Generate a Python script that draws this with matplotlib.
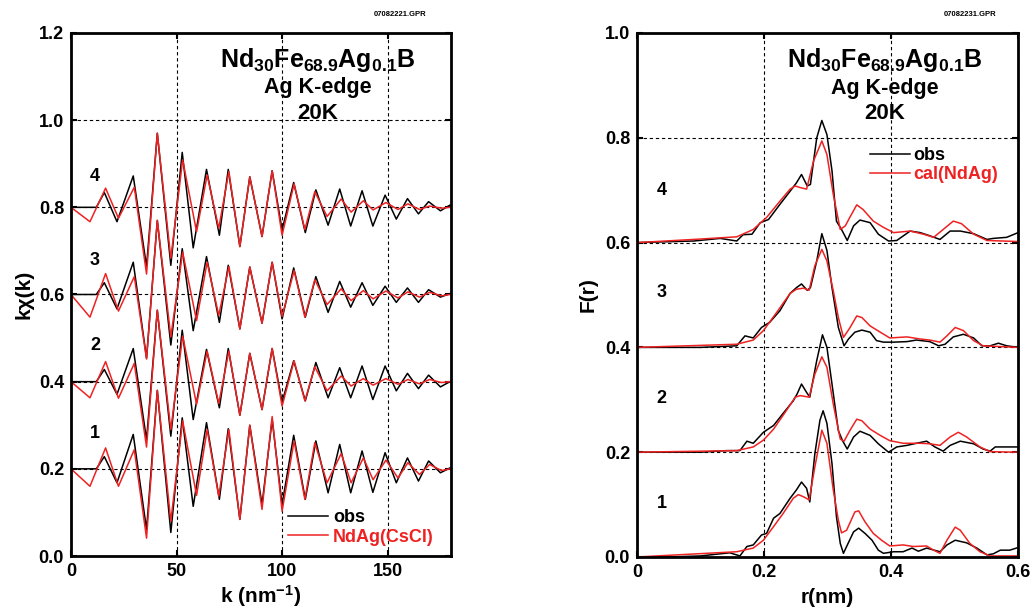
import numpy as np
import matplotlib
matplotlib.use('Agg')
import matplotlib.pyplot as plt

plt.rcParams['font.family'] = ['Liberation Sans', 'DejaVu Sans']
plt.rcParams['font.weight'] = 'bold'
plt.rcParams['axes.labelweight'] = 'bold'
plt.rcParams['mathtext.fontset'] = 'custom'
plt.rcParams['mathtext.rm'] = 'Liberation Sans:bold'
plt.rcParams['mathtext.bf'] = 'Liberation Sans:bold'
plt.rcParams['mathtext.it'] = 'Liberation Sans:bold'
plt.rcParams['mathtext.default'] = 'bf'

# ---- left panel: k*chi(k), extrema (offsets 0.2 .. 0.8)
offsets_k = [0.2, 0.4, 0.6, 0.8]
curve_ids = ['1', '2', '3', '4']

k_obs = [0, 12, 15.8, 21.8, 29.5, 35.8, 40.9, 47.3, 52.7, 57.9, 64.2, 70.3, 74.5, 80,
         84.7, 90.5, 95.3, 100, 105.5, 111, 116, 121.8, 127.3, 132.5, 137.9, 143,
         148.8, 154.1, 159.4, 164.6, 169.4, 175, 179.5]
chi_obs1 = [0, 0, 0.028, -0.032, 0.079, -0.139, 0.18, -0.146, 0.117, -0.086, 0.106, -0.07,
            0.092, -0.116, 0.1, -0.082, 0.113, -0.082, 0.077, -0.07, 0.064, -0.055, 0.056,
            -0.055, 0.041, -0.054, 0.037, -0.032, 0.025, -0.028, 0.018, -0.009, 0.002]
chi_obs2 = [0, 0, 0.028, -0.029, 0.076, -0.133, 0.164, -0.125, 0.118, -0.087, 0.074, -0.06,
            0.076, -0.077, 0.065, -0.064, 0.076, -0.047, 0.048, -0.044, 0.044, -0.037, 0.032,
            -0.037, 0.036, -0.041, 0.036, -0.021, 0.019, -0.016, 0.015, -0.012, 0.0]
chi_obs3 = [0, 0, 0.027, -0.033, 0.074, -0.146, 0.17, -0.116, 0.105, -0.083, 0.087, -0.064,
            0.067, -0.079, 0.063, -0.066, 0.074, -0.056, 0.061, -0.052, 0.041, -0.041, 0.03,
            -0.029, 0.027, -0.025, 0.019, -0.018, 0.015, -0.018, 0.011, -0.006, 0.002]
chi_obs4 = [0, 0, 0.034, -0.033, 0.072, -0.136, 0.17, -0.133, 0.126, -0.093, 0.087, -0.064,
            0.087, -0.09, 0.07, -0.067, 0.084, -0.052, 0.057, -0.058, 0.04, -0.041, 0.042,
            -0.043, 0.038, -0.043, 0.028, -0.027, 0.02, -0.015, 0.013, -0.008, 0.005]

k_cal = [0, 9, 16.4, 22.5, 30, 35.8, 40.9, 47.3, 52.9, 59.5, 64.5, 70, 74.8, 80, 84.7,
         90.5, 95.3, 100, 105.7, 110.8, 115.5, 121.3, 128, 132.7, 138.5, 143.1, 149.2,
         154.9, 159.6, 165.1, 169.9, 175.5, 179.5]
chi_cal1 = [0, -0.04, 0.048, -0.04, 0.044, -0.159, 0.18, -0.12, 0.11, -0.061, 0.09, -0.063,
            0.09, -0.116, 0.1, -0.093, 0.12, -0.097, 0.064, -0.07, 0.06, -0.032, 0.035,
            -0.032, 0.025, -0.025, 0.02, -0.021, 0.014, -0.013, 0.01, -0.004, 0.0]
chi_cal2 = [0, -0.037, 0.046, -0.038, 0.042, -0.15, 0.164, -0.11, 0.105, -0.052, 0.07, -0.05,
            0.07, -0.077, 0.065, -0.064, 0.076, -0.056, 0.048, -0.044, 0.034, -0.021, 0.013,
            -0.01, 0.007, -0.008, 0.007, -0.006, 0.005, -0.005, 0.005, -0.002, 0.0]
chi_cal3 = [0, -0.052, 0.048, -0.038, 0.041, -0.148, 0.17, -0.097, 0.097, -0.06, 0.074, -0.048,
            0.064, -0.079, 0.063, -0.066, 0.074, -0.05, 0.055, -0.052, 0.034, -0.023, 0.013,
            -0.014, 0.009, -0.01, 0.008, -0.008, 0.006, -0.006, 0.005, -0.003, 0.0]
chi_cal4 = [0, -0.033, 0.044, -0.025, 0.046, -0.153, 0.17, -0.117, 0.109, -0.056, 0.074, -0.048,
            0.082, -0.09, 0.07, -0.067, 0.084, -0.064, 0.054, -0.051, 0.036, -0.021, 0.019,
            -0.011, 0.015, -0.006, 0.011, -0.005, 0.008, -0.005, 0.003, -0.002, 0.0]

# ---- right panel: F(r), offsets 0 .. 0.6
offsets_r = [0.0, 0.2, 0.4, 0.6]

r_obs1 = [0, 0.05, 0.1, 0.146, 0.162, 0.173, 0.183, 0.196, 0.204, 0.215, 0.225, 0.241, 0.251,
          0.259, 0.267, 0.272, 0.28, 0.288, 0.293, 0.299, 0.307, 0.314, 0.32, 0.325, 0.33,
          0.341, 0.349, 0.359, 0.37, 0.38, 0.388, 0.404, 0.419, 0.433, 0.443, 0.456, 0.477,
          0.488, 0.501, 0.519, 0.535, 0.551, 0.561, 0.572, 0.587, 0.6]
f_obs1 = [0, 0.0, 0.002, 0.008, 0.002, 0.02, 0.023, 0.042, 0.045, 0.074, 0.083, 0.112, 0.128,
          0.143, 0.131, 0.105, 0.197, 0.261, 0.279, 0.255, 0.178, 0.077, 0.026, 0.007, 0.02,
          0.048, 0.055, 0.045, 0.032, 0.013, 0.007, 0.01, 0.01, 0.017, 0.011, 0.017, 0.01,
          0.023, 0.032, 0.027, 0.017, 0.004, 0.006, 0.013, 0.013, 0.018]
r_cal1 = [0, 0.157, 0.183, 0.199, 0.215, 0.23, 0.246, 0.254, 0.262, 0.271, 0.28, 0.291, 0.299,
          0.309, 0.317, 0.322, 0.33, 0.343, 0.349, 0.359, 0.372, 0.385, 0.398, 0.419, 0.435,
          0.456, 0.467, 0.477, 0.488, 0.501, 0.509, 0.524, 0.54, 0.556, 0.6]
f_cal1 = [0, 0.01, 0.017, 0.032, 0.058, 0.083, 0.112, 0.119, 0.115, 0.109, 0.172, 0.242, 0.217,
          0.128, 0.07, 0.046, 0.051, 0.086, 0.088, 0.067, 0.045, 0.032, 0.021, 0.023, 0.02,
          0.021, 0.013, 0.007, 0.032, 0.057, 0.051, 0.026, 0.01, 0.002, 0.002]

r_obs2 = [0, 0.1, 0.141, 0.162, 0.173, 0.183, 0.199, 0.215, 0.23, 0.246, 0.252, 0.259, 0.267,
          0.272, 0.283, 0.292, 0.299, 0.307, 0.317, 0.324, 0.331, 0.341, 0.351, 0.367, 0.38,
          0.396, 0.409, 0.425, 0.44, 0.456, 0.469, 0.482, 0.493, 0.509, 0.53, 0.545, 0.556,
          0.564, 0.582, 0.6]
f_obs2 = [0, 0.0, 0.003, 0.003, 0.021, 0.017, 0.038, 0.051, 0.074, 0.098, 0.111, 0.13, 0.114,
          0.105, 0.175, 0.224, 0.2, 0.13, 0.041, 0.021, 0.006, 0.029, 0.04, 0.032, 0.016,
          0.0, 0.01, 0.013, 0.017, 0.021, 0.01, 0.002, 0.013, 0.021, 0.016, 0.006, 0.002,
          0.01, 0.01, 0.01]
r_cal2 = [0, 0.157, 0.183, 0.199, 0.215, 0.236, 0.249, 0.257, 0.271, 0.28, 0.291, 0.299, 0.309,
          0.32, 0.326, 0.335, 0.346, 0.354, 0.367, 0.383, 0.398, 0.419, 0.446, 0.461, 0.477,
          0.493, 0.506, 0.519, 0.54, 0.556, 0.6]
f_cal2 = [0, 0.003, 0.01, 0.023, 0.044, 0.081, 0.105, 0.108, 0.105, 0.149, 0.182, 0.162, 0.092,
          0.025, 0.021, 0.041, 0.063, 0.06, 0.044, 0.032, 0.022, 0.017, 0.017, 0.016, 0.013,
          0.029, 0.038, 0.029, 0.01, 0.001, 0.0]

r_obs3 = [0, 0.1, 0.157, 0.17, 0.183, 0.196, 0.209, 0.225, 0.241, 0.251, 0.259, 0.268, 0.273,
          0.283, 0.291, 0.299, 0.307, 0.317, 0.326, 0.333, 0.343, 0.354, 0.367, 0.377, 0.388,
          0.404, 0.425, 0.44, 0.461, 0.475, 0.485, 0.498, 0.514, 0.53, 0.543, 0.556, 0.569,
          0.582, 0.6]
f_obs3 = [0, 0.0, 0.003, 0.022, 0.018, 0.038, 0.048, 0.07, 0.103, 0.114, 0.121, 0.109, 0.114,
          0.165, 0.217, 0.185, 0.114, 0.038, 0.003, 0.016, 0.029, 0.033, 0.029, 0.013, 0.01,
          0.01, 0.011, 0.014, 0.011, 0.003, 0.006, 0.02, 0.025, 0.018, 0.003, 0.003, 0.008,
          0.003, 0.0]
r_cal3 = [0, 0.157, 0.183, 0.199, 0.22, 0.241, 0.251, 0.262, 0.271, 0.28, 0.291, 0.299, 0.309,
          0.317, 0.325, 0.335, 0.346, 0.354, 0.367, 0.383, 0.398, 0.425, 0.446, 0.461, 0.477,
          0.488, 0.501, 0.514, 0.53, 0.545, 0.6]
f_cal3 = [0, 0.006, 0.014, 0.032, 0.067, 0.103, 0.111, 0.113, 0.109, 0.156, 0.187, 0.165, 0.108,
          0.057, 0.019, 0.037, 0.06, 0.057, 0.041, 0.029, 0.018, 0.02, 0.016, 0.014, 0.01,
          0.022, 0.038, 0.032, 0.013, 0.003, 0.0]

r_obs4 = [0, 0.089, 0.131, 0.157, 0.167, 0.181, 0.194, 0.207, 0.225, 0.241, 0.251, 0.259, 0.268,
          0.273, 0.283, 0.291, 0.299, 0.307, 0.314, 0.322, 0.331, 0.341, 0.351, 0.367, 0.38,
          0.396, 0.409, 0.43, 0.446, 0.461, 0.477, 0.493, 0.509, 0.53, 0.551, 0.561, 0.582, 0.6]
f_obs4 = [0, 0.003, 0.008, 0.003, 0.015, 0.016, 0.038, 0.044, 0.073, 0.098, 0.114, 0.13, 0.108,
          0.111, 0.2, 0.233, 0.206, 0.137, 0.041, 0.025, 0.004, 0.032, 0.043, 0.038, 0.016,
          0.003, 0.004, 0.022, 0.019, 0.013, 0.006, 0.022, 0.022, 0.017, 0.006, 0.008, 0.01, 0.019]
r_cal4 = [0, 0.089, 0.157, 0.183, 0.204, 0.225, 0.241, 0.249, 0.257, 0.267, 0.278, 0.291, 0.299,
          0.309, 0.32, 0.328, 0.335, 0.346, 0.356, 0.372, 0.388, 0.404, 0.43, 0.451, 0.467,
          0.482, 0.498, 0.511, 0.53, 0.551, 0.6]
f_cal4 = [0, 0.006, 0.011, 0.025, 0.048, 0.079, 0.102, 0.108, 0.105, 0.102, 0.156, 0.194, 0.168,
          0.092, 0.025, 0.032, 0.048, 0.072, 0.063, 0.041, 0.029, 0.019, 0.022, 0.016, 0.01,
          0.025, 0.041, 0.036, 0.016, 0.004, 0.002]

RED = '#ee2222'
LW = 1.1

fig = plt.figure(figsize=(10.36, 6.12), dpi=100)
ax1 = fig.add_axes([0.0685, 0.0915, 0.3668, 0.8546])
ax2 = fig.add_axes([0.6149, 0.0899, 0.3678, 0.8562])


def style_axes(ax):
    for sp in ax.spines.values():
        sp.set_linewidth(2.0)
    ax.tick_params(direction='in', length=4, width=1.5, top=True, right=True,
                   labelsize=13, pad=5)
    ax.grid(True, color='black', linestyle=(0, (3, 2.5)), linewidth=0.8)
    ax.set_axisbelow(True)


chi_obs = [chi_obs1, chi_obs2, chi_obs3, chi_obs4]
chi_cal = [chi_cal1, chi_cal2, chi_cal3, chi_cal4]
for off, co, cc in zip(offsets_k, chi_obs, chi_cal):
    l_obs, = ax1.plot(k_obs, off + np.array(co), color='black', lw=LW)
    l_cal, = ax1.plot(k_cal, off + np.array(cc), color=RED, lw=LW)

ax1.set_xlim(0, 180)
ax1.set_ylim(0, 1.2)
ax1.set_xticks([0, 50, 100, 150])
ax1.set_yticks([0, 0.2, 0.4, 0.6, 0.8, 1.0, 1.2])
ax1.set_yticklabels(['0.0', '0.2', '0.4', '0.6', '0.8', '1.0', '1.2'])
style_axes(ax1)
ax1.set_xlabel('k (nm$^{-1}$)', fontsize=15, labelpad=2)
ax1.set_ylabel('kχ(k)', fontsize=15, labelpad=4)
for cid, yv in zip(curve_ids, [0.281, 0.484, 0.677, 0.87]):
    ax1.text(11.4, yv, cid, fontsize=13, ha='center', va='center')
ax1.legend([l_obs, l_cal], ['obs', 'NdAg(CsCl)'], loc='center left',
           bbox_to_anchor=(0.571, 0.055), frameon=False, fontsize=13,
           handlelength=2.2, handletextpad=0.3, labelspacing=0.15,
           borderpad=0, borderaxespad=0, labelcolor='linecolor')

f_obs = [(r_obs1, f_obs1), (r_obs2, f_obs2), (r_obs3, f_obs3), (r_obs4, f_obs4)]
f_cal = [(r_cal1, f_cal1), (r_cal2, f_cal2), (r_cal3, f_cal3), (r_cal4, f_cal4)]
for off, (ro, fo), (rc, fc) in zip(offsets_r, f_obs, f_cal):
    m_obs, = ax2.plot(ro, off + np.array(fo), color='black', lw=LW)
    m_cal, = ax2.plot(rc, off + np.array(fc), color=RED, lw=LW)

ax2.set_xlim(0, 0.6)
ax2.set_ylim(0, 1.0)
ax2.set_xticks([0, 0.2, 0.4, 0.6])
ax2.set_xticklabels(['0', '0.2', '0.4', '0.6'])
ax2.set_yticks([0, 0.2, 0.4, 0.6, 0.8, 1.0])
ax2.set_yticklabels(['0.0', '0.2', '0.4', '0.6', '0.8', '1.0'])
style_axes(ax2)
ax2.set_xlabel('r(nm)', fontsize=15, labelpad=5)
ax2.set_ylabel('F(r)', fontsize=15, labelpad=5)
for cid, yv in zip(curve_ids, [0.103, 0.303, 0.505, 0.699]):
    ax2.text(0.039, yv, cid, fontsize=13, ha='center', va='center')
ax2.legend([m_obs, m_cal], ['obs', 'cal(NdAg)'], loc='center left',
           bbox_to_anchor=(0.612, 0.748), frameon=False, fontsize=13,
           handlelength=2.2, handletextpad=0.2, labelspacing=0.1,
           borderpad=0, borderaxespad=0, labelcolor='linecolor')

for ax in (ax1, ax2):
    ax.text(0.65, 0.948, 'Nd$_{30}$Fe$_{68.9}$Ag$_{0.1}$B', transform=ax.transAxes,
            fontsize=18, ha='center', va='center')
    ax.text(0.65, 0.895, 'Ag K-edge', transform=ax.transAxes, fontsize=15.5,
            ha='center', va='center')
    ax.text(0.65, 0.846, '20K', transform=ax.transAxes, fontsize=16,
            ha='center', va='center')

fig.text(400 / 1036, 1 - 14 / 612, '07082221.GPR', fontsize=5.5, ha='center', va='center')
fig.text(970 / 1036, 1 - 14 / 612, '07082231.GPR', fontsize=5.5, ha='center', va='center')

fig.savefig('out.png', dpi=100)
plt.close(fig)
